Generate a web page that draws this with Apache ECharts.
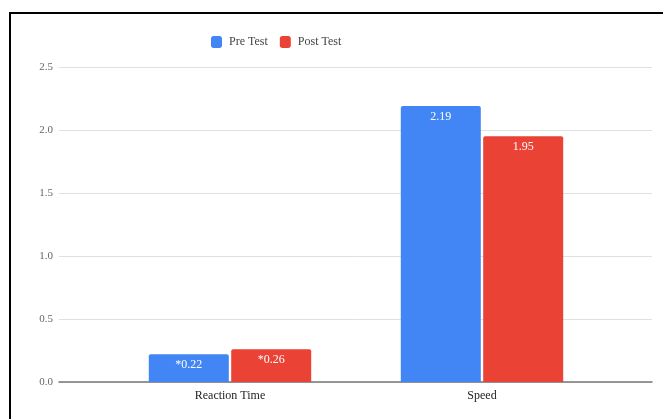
<!DOCTYPE html>
<html>
<head>
<meta charset="utf-8">
<script src="https://cdn.jsdelivr.net/npm/echarts@6/dist/echarts.min.js"></script>
<style>
  html, body { margin: 0; padding: 0; background: #fff; }
  #chart { width: 663px; height: 419px; }
  .frame {
    position: absolute;
    left: 9px;
    top: 12px;
    width: 700px;
    height: 500px;
    border: 2px solid #000;
    pointer-events: none;
  }
</style>
</head>
<body>
<div id="chart"></div>
<div class="frame"></div>
<script>
// data
const categories = ['Reaction Time', 'Speed']
const seriesNames = ['Pre Test', 'Post Test']
const preTest = [0.22, 2.19]
const postTest = [0.26, 1.95]
// '*' mark shown in front of the value (significance)
const preMarks = ['*', '']
const postMarks = ['*', '']
const yTicks = { min: 0, max: 2.5, interval: 0.5 }

const colors = ['#4285f4', '#ea4335']
const font = '"Liberation Serif", "DejaVu Serif", serif'

const chart = echarts.init(document.getElementById('chart'))

const makeSeries = (name, values, marks, color) => ({
  name: name,
  type: 'bar',
  xAxisIndex: 1,
  yAxisIndex: 1,
  data: values,
  barWidth: 80,
  barGap: '3%',
  itemStyle: { color: color, borderRadius: [2, 2, 0, 0] },
  label: {
    show: true,
    position: 'insideTop',
    distance: 5,
    color: '#fff',
    fontFamily: font,
    fontSize: 12,
    formatter: (p) => marks[p.dataIndex] + p.value.toFixed(2)
  }
})

chart.setOption({
  animation: false,
  textStyle: { fontFamily: font },
  legend: {
    left: 206,
    top: 31,
    itemWidth: 11,
    itemHeight: 12,
    itemGap: 12,
    icon: 'roundRect',
    data: seriesNames,
    textStyle: { color: '#444', fontSize: 12, fontFamily: font, padding: [0, 0, 0, 2] }
  },
  grid: [
    // full width grid: gridlines + axis line
    { left: 59, right: 11, top: 67, bottom: 37 },
    // bars
    { left: 104, right: 55, top: 67, bottom: 37 }
  ],
  xAxis: [
    {
      gridIndex: 0,
      type: 'category',
      data: [''],
      axisLine: { lineStyle: { color: '#777', width: 1.5 } },
      axisTick: { show: false },
      axisLabel: { show: false }
    },
    {
      gridIndex: 1,
      type: 'category',
      data: categories,
      axisLine: { show: false },
      axisTick: { show: false },
      axisLabel: { color: '#222', fontSize: 12, margin: 8, fontFamily: font }
    }
  ],
  yAxis: [
    {
      gridIndex: 0,
      type: 'value',
      min: yTicks.min,
      max: yTicks.max,
      interval: yTicks.interval,
      axisLine: { show: false },
      axisTick: { show: false },
      axisLabel: {
        color: '#666',
        fontSize: 11,
        margin: 6,
        fontFamily: font,
        formatter: (v) => v.toFixed(1)
      },
      splitLine: { lineStyle: { color: '#e0e0e0', width: 1 } }
    },
    {
      gridIndex: 1,
      type: 'value',
      min: yTicks.min,
      max: yTicks.max,
      interval: yTicks.interval,
      show: false,
      splitLine: { show: false }
    }
  ],
  series: [
    makeSeries(seriesNames[0], preTest, preMarks, colors[0]),
    makeSeries(seriesNames[1], postTest, postMarks, colors[1])
  ]
})
</script>
</body>
</html>
